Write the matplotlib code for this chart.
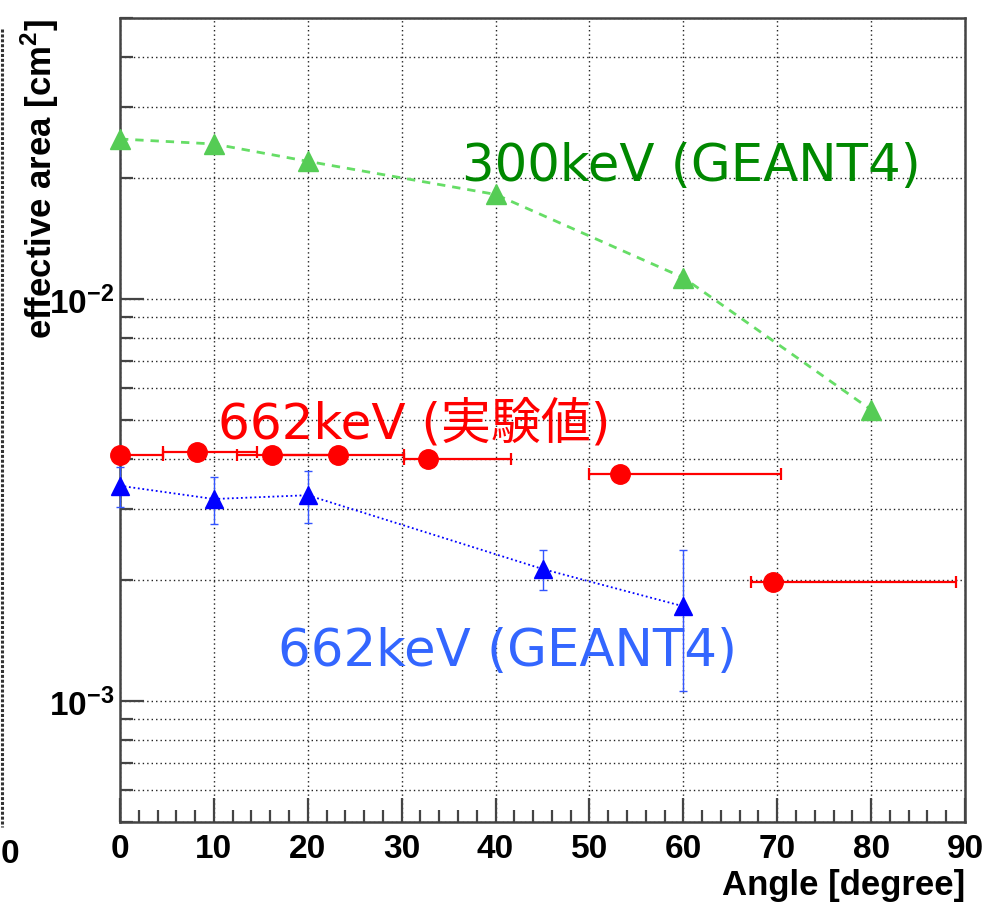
import matplotlib
matplotlib.use("Agg")
import matplotlib.pyplot as plt
from matplotlib.ticker import FixedLocator, FixedFormatter, NullFormatter, MultipleLocator
from matplotlib.lines import Line2D

# ---- data ----
green_x = [0, 10, 20, 40, 60, 80]
green_y = [0.0250, 0.0243, 0.0220, 0.0182, 0.0113, 0.0053]

blue_x = [0, 10, 20, 45, 60]
blue_y = [0.00343, 0.00318, 0.00325, 0.00213, 0.00172]
blue_err = [0.00040, 0.00043, 0.00048, 0.00024, 0.00066]

red_x = [0, 8.2, 16.2, 23.2, 32.8, 53.3, 69.5]
red_y = [0.0041, 0.00416, 0.0041, 0.0041, 0.0040, 0.00367, 0.00198]
red_xlo = [0, 3.6, 3.7, 7.0, 2.6, 3.4, 2.3]
red_xhi = [4.6, 6.4, 7.0, 7.0, 8.8, 17.1, 19.5]

xticks = [0, 10, 20, 30, 40, 50, 60, 70, 80, 90]
xtick_labels = ["0", "10", "20", "30", "40", "50", "60", "70", "80", "90"]
yticks = [1e-3, 1e-2]
ytick_labels = [r"$\mathbf{10^{-3}}$", r"$\mathbf{10^{-2}}$"]

label_green = "300keV (GEANT4)"
label_red = "662keV (実験値)"
label_blue = "662keV (GEANT4)"

plt.rcParams["font.family"] = ["Liberation Sans", "DejaVu Sans"]
plt.rcParams["mathtext.fontset"] = "custom"
plt.rcParams["mathtext.bf"] = "Liberation Sans:bold"
plt.rcParams["mathtext.rm"] = "Liberation Sans"

W, H = 986, 904
fig = plt.figure(figsize=(W / 100, H / 100), dpi=100)
ax = fig.add_axes([120 / W, 1 - 823 / H, (965 - 120) / W, (823 - 19) / H])

ax.set_yscale("log")
ax.set_xlim(0, 90)
ax.set_ylim(5e-4, 0.05)

# ticks and grid
ax.xaxis.set_major_locator(FixedLocator(xticks))
ax.xaxis.set_major_formatter(FixedFormatter(xtick_labels))
ax.xaxis.set_minor_locator(MultipleLocator(2))
ax.yaxis.set_major_locator(FixedLocator(yticks))
ax.yaxis.set_major_formatter(FixedFormatter(ytick_labels))
minor_y = [m * 10.0 ** e for e in (-4, -3, -2) for m in range(2, 10)]
ax.yaxis.set_minor_locator(FixedLocator(minor_y))
ax.yaxis.set_minor_formatter(NullFormatter())

ax.grid(True, which="major", axis="x", color="#222222", linestyle=(0, (1, 2.2)), linewidth=1.0)
ax.grid(True, which="both", axis="y", color="#222222", linestyle=(0, (1, 2.2)), linewidth=1.0)
ax.set_axisbelow(True)

for s in ax.spines.values():
    s.set_color("#444444")
    s.set_linewidth(1.8)

ax.tick_params(which="major", direction="in", length=17, width=1.6, color="#444444",
               labelsize=24, pad=8)
ax.tick_params(which="minor", direction="in", length=9, width=1.6, color="#444444")
ax.tick_params(axis="y", which="major", pad=4)
for lab in ax.get_xticklabels():
    lab.set_fontweight("bold")

# green 300keV GEANT4
ax.plot(green_x, green_y, color="#66dd66", linestyle=(0, (3, 2.5)), linewidth=2,
        marker="^", markersize=14, markerfacecolor="#55cc55", markeredgecolor="#55cc55",
        clip_on=False, zorder=3)

# blue 662keV GEANT4
ax.errorbar(blue_x, blue_y, yerr=blue_err, color="blue", linestyle=(0, (1, 1.5)),
            linewidth=1.3, marker="^", markersize=13, elinewidth=1.0, capsize=3,
            ecolor="#3355ff", clip_on=False, zorder=4)

# red 662keV measured
red_lines = ax.errorbar(red_x, red_y, xerr=[red_xlo, red_xhi], fmt="o", color="red",
                        markersize=14, elinewidth=1.6, capsize=4, capthick=1.6,
                        zorder=5)
for art in red_lines.lines[0:1]:
    art.set_clip_on(False)

# annotations
fam = ["DejaVu Sans", "Noto Sans CJK JP"]
ax.text(36.4, 0.0214, label_green, color="#008800", fontsize=37,
        family=fam, ha="left", va="center")
ax.text(10.4, 0.00492, label_red, color="#ff0000", fontsize=36,
        family=fam, ha="left", va="center")
ax.text(16.8, 0.00133, label_blue, color="#3366ff", fontsize=37,
        family=fam, ha="left", va="center")

ax.set_xlabel("Angle [degree]", fontsize=25, fontweight="bold", loc="right")
ax.xaxis.set_label_coords(1.0, -(885 - 823) / (823 - 19))
ax.xaxis.label.set_va("center")
ax.set_ylabel(r"effective area [cm$^{\mathbf{2}}$]", fontsize=25, fontweight="bold", loc="top")
ax.yaxis.set_label_coords(-(120 - 40) / (965 - 120), 1.0)
ax.yaxis.label.set_va("center")

# cropped neighbour panel edge at the far left
fig.add_artist(Line2D([2 / W, 2 / W], [1 - 30 / H, 1 - 828 / H], color="#333333",
                      linewidth=2.2, linestyle=(0, (1, 0.6))))
fig.text(1 / W, 1 - 855 / H, "0", fontsize=24, fontweight="bold", ha="left", va="center")

fig.savefig("out.png", dpi=100)
